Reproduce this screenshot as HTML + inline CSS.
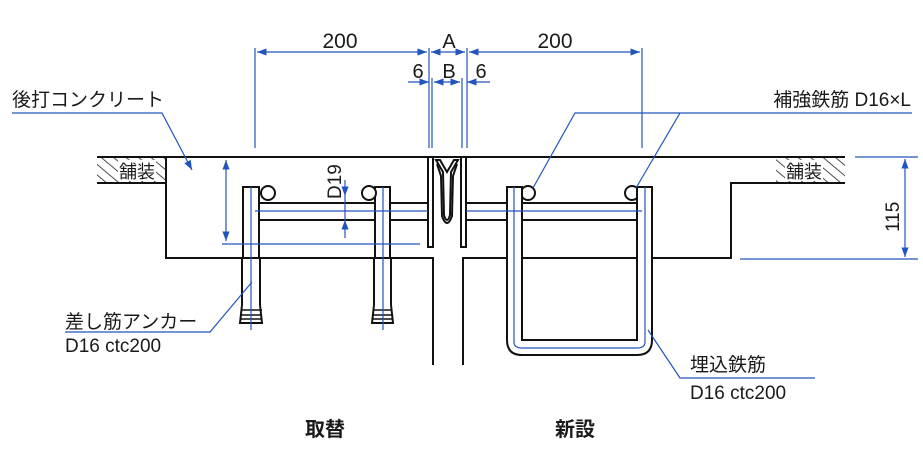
<!DOCTYPE html>
<html><head><meta charset="utf-8"><style>
html,body{margin:0;padding:0;background:#fff;}
svg{display:block;}
text{font-family:"Liberation Sans","Noto Sans CJK JP",sans-serif;fill:#1a1a1a;}
</style></head><body>
<svg width="923" height="464" viewBox="0 0 923 464" xmlns="http://www.w3.org/2000/svg">
<defs>
<marker id="ar" markerWidth="8" markerHeight="6" refX="8" refY="3" orient="auto-start-reverse"><path d="M0,0 L8,3 L0,6 z" fill="#2255bb"/></marker>
<pattern id="hatch" width="8" height="8" patternUnits="userSpaceOnUse" patternTransform="rotate(-50)"><line x1="0" y1="0" x2="0" y2="8" stroke="#222" stroke-width="1.6"/></pattern>
</defs>
<g stroke="#111" stroke-width="2" fill="none">
<line x1="97" y1="157" x2="845" y2="157"/>
<line x1="97" y1="183" x2="166" y2="183"/>
<polyline points="166,157 166,258 433,258 433,365"/>
<polyline points="463,365 463,258 731,258 731,183 845,183"/>
</g>
<rect x="97" y="158" width="69" height="24" fill="url(#hatch)"/>
<rect x="118" y="160" width="38" height="21" fill="#fff"/>
<rect x="776" y="158" width="69" height="24" fill="url(#hatch)"/>
<rect x="785" y="160" width="38" height="21" fill="#fff"/>
<text x="119" y="178" font-size="18">舗装</text>
<text x="786" y="178" font-size="18">舗装</text>

<g stroke="#111" stroke-width="2" fill="#fff">
<rect x="255" y="203" width="173" height="17"/>
<rect x="466" y="203" width="176" height="17"/>
</g>
<g stroke="#111" stroke-width="2" fill="#fff">
<rect x="243" y="187" width="16" height="71"/>
<rect x="242" y="258" width="18" height="50"/>
<path d="M242,305 L240,323 L262,323 L260,305"/>
<rect x="375" y="187" width="15" height="71"/>
<rect x="374" y="258" width="17" height="50"/>
<path d="M374,305 L372,323 L393,323 L391,305"/>
<circle cx="268" cy="193" r="7"/>
<circle cx="369" cy="193" r="7"/>
<circle cx="528" cy="193" r="7"/>
<circle cx="632" cy="193" r="7"/>
</g>
<g stroke="#111" stroke-width="1.4">
<line x1="242" y1="310" x2="262" y2="310"/><line x1="241" y1="315" x2="262" y2="315"/><line x1="241" y1="319" x2="262" y2="319"/>
<line x1="374" y1="310" x2="392" y2="310"/><line x1="373" y1="315" x2="393" y2="315"/><line x1="373" y1="319" x2="393" y2="319"/>
</g>
<g stroke="#111" stroke-width="2" fill="none">
<path d="M507,187 L507,340 Q507,355 522,355 L637,355 Q652,355 652,340 L652,187 L637,187 L637,340 L522,340 L522,187 Z" fill="#fff"/>
</g>
<g stroke="#111" stroke-width="2" fill="#fff">
<rect x="428" y="157" width="5" height="90"/>
<rect x="461" y="157" width="5" height="90"/>
<path d="M436,160 L443,172 L444,215 Q447,225 450,215 L451,172 L458,160 L454,160 L447,172 L440,160 Z"/>
<path d="M437,164 L441,176 L442,216 Q447,230 452,216 L453,176 L457,164" fill="none"/>
</g>
<g stroke="#2255bb" stroke-width="1.2" fill="none">
<line x1="255" y1="211" x2="428" y2="211"/>
<line x1="466" y1="211" x2="642" y2="211"/>
<line x1="251" y1="187" x2="251" y2="330"/>
<line x1="383" y1="187" x2="383" y2="330"/>
<path d="M514,187 L514,342 Q514,348 522,348 L637,348 Q645,348 645,342 L645,187"/>
<line x1="222" y1="244" x2="420" y2="244"/>
<line x1="226" y1="160" x2="226" y2="241" marker-start="url(#ar)" marker-end="url(#ar)"/>
<line x1="345" y1="180" x2="345" y2="196" marker-end="url(#ar)"/>
<line x1="345" y1="238" x2="345" y2="220" marker-end="url(#ar)"/>
<line x1="345" y1="196" x2="345" y2="220"/>
<line x1="255" y1="48" x2="255" y2="148"/>
<line x1="429" y1="48" x2="429" y2="148"/>
<line x1="467" y1="48" x2="467" y2="148"/>
<line x1="642" y1="48" x2="642" y2="148"/>
<line x1="432" y1="78" x2="432" y2="148"/>
<line x1="462" y1="78" x2="462" y2="148"/>
<line x1="257" y1="52" x2="427" y2="52" marker-start="url(#ar)" marker-end="url(#ar)"/>
<line x1="431" y1="52" x2="465" y2="52" marker-start="url(#ar)" marker-end="url(#ar)"/>
<line x1="469" y1="52" x2="640" y2="52" marker-start="url(#ar)" marker-end="url(#ar)"/>
<line x1="408" y1="82" x2="429" y2="82" marker-end="url(#ar)"/>
<line x1="434" y1="82" x2="460" y2="82" marker-start="url(#ar)" marker-end="url(#ar)"/>
<line x1="490" y1="82" x2="467" y2="82" marker-end="url(#ar)"/>
<line x1="855" y1="157" x2="918" y2="157"/>
<line x1="740" y1="259" x2="918" y2="259"/>
<line x1="905" y1="159" x2="905" y2="257" marker-start="url(#ar)" marker-end="url(#ar)"/>
<polyline points="12,113 162,113 192,170" marker-end="url(#ar)"/>
<polyline points="912,113 575,113 533,188"/>
<line x1="680" y1="113" x2="636" y2="188"/>
<polyline points="65,332 210,332 252,282"/>
<polyline points="815,378 680,378 648,330"/>
</g>
<text x="340" y="48" font-size="21" text-anchor="middle">200</text>
<text x="449" y="48" font-size="20" text-anchor="middle">A</text>
<text x="555" y="48" font-size="21" text-anchor="middle">200</text>
<text x="418" y="78" font-size="20" text-anchor="middle">6</text>
<text x="449" y="78" font-size="20" text-anchor="middle">B</text>
<text x="481" y="78" font-size="20" text-anchor="middle">6</text>
<text transform="translate(341,199) rotate(-90)" font-size="19">D19</text>
<text transform="translate(899,232) rotate(-90)" font-size="19">115</text>
<text x="12" y="106" font-size="19">後打コンクリート</text>
<text x="911" y="106" font-size="19" text-anchor="end">補強鉄筋 D16×L</text>
<text x="65" y="328" font-size="19">差し筋アンカー</text>
<text x="65" y="352" font-size="19">D16 ctc200</text>
<text x="690" y="371" font-size="19">埋込鉄筋</text>
<text x="690" y="399" font-size="19">D16 ctc200</text>
<text x="325" y="436" font-size="20" font-weight="bold" text-anchor="middle">取替</text>
<text x="575" y="436" font-size="20" font-weight="bold" text-anchor="middle">新設</text>
</svg>
</body></html>
